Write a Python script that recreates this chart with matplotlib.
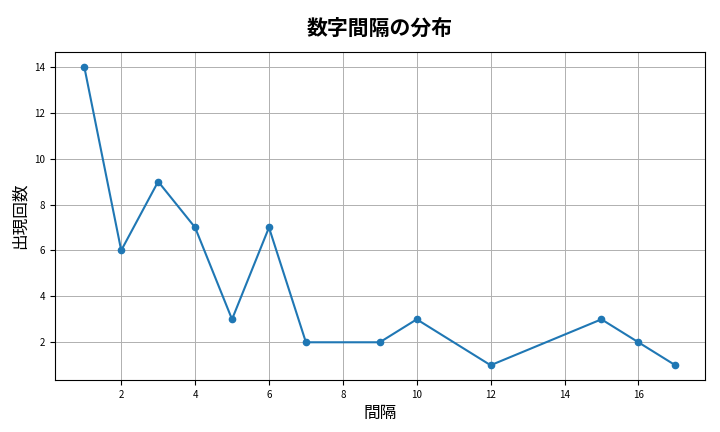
import matplotlib
matplotlib.use("Agg")
import matplotlib.pyplot as plt

plt.rcParams['font.family'] = ['Noto Sans CJK JP', 'DejaVu Sans']

# gap sizes and how often each appears
gaps = [1, 2, 3, 4, 5, 6, 7, 9, 10, 12, 15, 16, 17]
counts = [14, 6, 9, 7, 3, 7, 2, 2, 3, 1, 3, 2, 1]

fig, ax = plt.subplots(figsize=(7.2, 4.32), dpi=100)
ax.plot(gaps, counts, marker='o', markersize=4.5, linewidth=1.5, color='#1f77b4')

ax.set_title('数字間隔の分布', fontsize=15, fontweight='bold', pad=12)
ax.set_xlabel('間隔', fontsize=12)
ax.set_ylabel('出現回数', fontsize=12)
ax.tick_params(labelsize=7)
ax.set_xticks([2, 4, 6, 8, 10, 12, 14, 16])
ax.set_yticks([2, 4, 6, 8, 10, 12, 14])
ax.grid(True, color='#b0b0b0', linewidth=0.7)

fig.subplots_adjust(left=0.076, right=0.979, top=0.88, bottom=0.12)
plt.savefig('out.png', dpi=100)
